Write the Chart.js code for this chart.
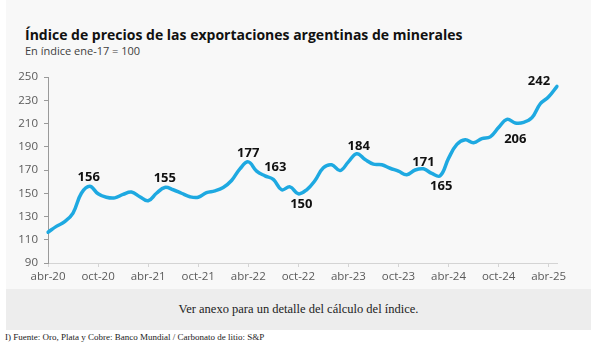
<!DOCTYPE html>
<html><head><meta charset="utf-8">
<script src="https://cdn.jsdelivr.net/npm/chart.js@4.4.1/dist/chart.umd.min.js"></script>
<style>
html,body{margin:0;padding:0;background:#fff;width:597px;height:346px;overflow:hidden;}
#panel{position:absolute;left:6px;top:0;width:585px;height:289px;background:#f8f8f8;}
#title{position:absolute;left:25px;top:27.6px;font:700 14px/1 "Open Sans";color:#111;white-space:nowrap;}
#sub{position:absolute;left:25px;top:45.4px;font:400 11px/1 "Open Sans";color:#404040;white-space:nowrap;}
canvas{position:absolute;left:0;top:0;}
#note{position:absolute;left:6px;top:289px;width:585px;height:41px;background:#ededed;display:flex;align-items:center;justify-content:center;font:12.5px "Liberation Serif";color:#222;}
#src{position:absolute;left:5px;top:332px;font:9px/1.2 "Liberation Serif";color:#222;white-space:nowrap;}
</style></head>
<body>
<div id="panel"></div>
<div id="title">Índice de precios de las exportaciones argentinas de minerales</div>
<div id="sub">En índice ene-17 = 100</div>
<canvas id="c" width="597" height="288"></canvas>
<div id="note">Ver anexo para un detalle del cálculo del índice.</div>
<div id="src">I) Fuente: Oro, Plata y Cobre: Banco Mundial / Carbonato de litio: S&amp;P</div>
<script>
const months = ['abr-20','may-20','jun-20','jul-20','ago-20','sep-20','oct-20','nov-20','dic-20',
 'ene-21','feb-21','mar-21','abr-21','may-21','jun-21','jul-21','ago-21','sep-21','oct-21','nov-21','dic-21',
 'ene-22','feb-22','mar-22','abr-22','may-22','jun-22','jul-22','ago-22','sep-22','oct-22','nov-22','dic-22',
 'ene-23','feb-23','mar-23','abr-23','may-23','jun-23','jul-23','ago-23','sep-23','oct-23','nov-23','dic-23',
 'ene-24','feb-24','mar-24','abr-24','may-24','jun-24','jul-24','ago-24','sep-24','oct-24','nov-24','dic-24',
 'ene-25','feb-25','mar-25','abr-25','may-25'];
const indexValues = [116.5,121.5,125.5,133,150,156,149.5,146.5,146,149,
 151,147,143.5,150,155,153,150,147,146.5,150.5,
 152,155,161,171,177,169,165,162,153,155.5,
 149.5,153,161,172,174.5,169.5,177,184,179,175,
 174.5,171.5,169,166,170,171,167,165,180,192,
 196,193.5,197,198.5,206.5,213.5,210.5,211,215,227,
 233,242];
const tickEvery = 6;
const yMin = 90, yMax = 250, yStep = 20;
const labelIndex = [5,14,24,27,30,37,45,47,56,61];
const labelText  = ['156','155','177','163','150','184','171','165','206','242'];
// label offsets (style only)
const labelOffsets = [[-1,-9],[0,-9],[0,-9],[2,-12],[3,10],[2,-7],[0,-7],[1,10],[0,16],[-18,-5]];

const labelPlugin = {
  id:'pointLabels',
  afterDatasetsDraw(chart){
    const meta = chart.getDatasetMeta(0);
    const ctx = chart.ctx;
    ctx.save();
    ctx.font = '700 13px "Open Sans"';
    ctx.fillStyle = '#111';
    ctx.textAlign = 'center';
    ctx.textBaseline = 'middle';
    labelIndex.forEach((idx,k)=>{
      const p = meta.data[idx];
      const o = labelOffsets[k];
      ctx.fillText(labelText[k], p.x + o[0], p.y + o[1]);
    });
    ctx.restore();
  }
};

new Chart(document.getElementById('c'), {
  type:'line',
  data:{labels:months, datasets:[{data:indexValues, borderColor:'#1EA9E1', borderWidth:3.5,
    pointRadius:0, tension:0.4, fill:false, borderCapStyle:'round', borderJoinStyle:'round'}]},
  options:{
    responsive:false, animation:false, devicePixelRatio:1,
    layout:{padding:{left:0,right:40,top:77,bottom:0}},
    plugins:{legend:{display:false}, tooltip:{enabled:false}, title:{display:false}},
    scales:{
      x:{type:'category', offset:false,
        grid:{drawOnChartArea:false, drawTicks:true, tickLength:4, color:'#d4d4d4'},
        border:{color:'#d4d4d4', width:1},
        ticks:{autoSkip:false, maxRotation:0, minRotation:0, padding:3, color:'#5a5a5a',
          font:{family:'Open Sans', size:11.5},
          callback:(v,i)=> (i % tickEvery === 0) ? months[i] : null},
        afterFit:(s)=>{ s.height = 25; }
      },
      y:{min:yMin, max:yMax,
        grid:{drawOnChartArea:false, drawTicks:true, tickLength:4, color:'#9a9a9a'},
        border:{color:'#9a9a9a', width:1},
        ticks:{stepSize:yStep, padding:6, color:'#5a5a5a', font:{family:'Open Sans', size:11.5}},
        afterFit:(s)=>{ s.width = 48; }
      }
    }
  },
  plugins:[labelPlugin]
});
</script>
</body></html>
